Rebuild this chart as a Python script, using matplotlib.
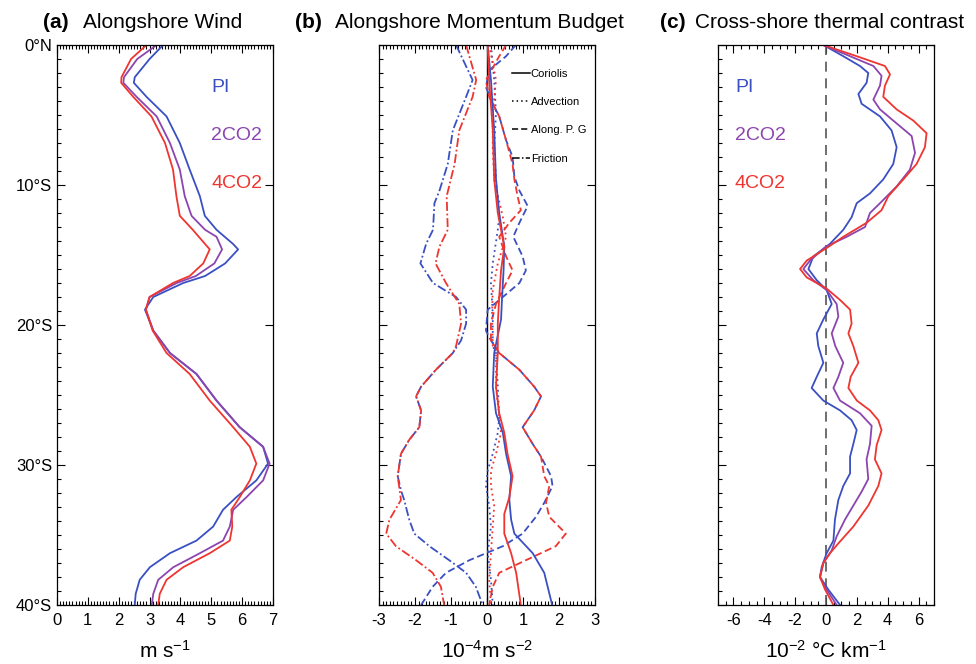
"""Three-panel profile figure: alongshore wind, momentum budget, cross-shore thermal contrast."""
import matplotlib.pyplot as plt
from matplotlib.lines import Line2D
from matplotlib.ticker import MultipleLocator

plt.rcParams["font.family"] = ["Liberation Sans", "DejaVu Sans"]
plt.rcParams["axes.unicode_minus"] = False
plt.rcParams["mathtext.fontset"] = "custom"
plt.rcParams["mathtext.rm"] = "Liberation Sans"
plt.rcParams["mathtext.default"] = "regular"

BLUE = "#3a50c2"
PURPLE = "#8c45b0"
RED = "#ee3530"

# --- (a) alongshore wind, m/s; latitude in degrees south ---
wind_pi_lat = [0, 1.0, 2.3, 2.7, 3.7, 5.1, 7.0, 8.9, 10.8, 12.2, 13.2, 14.2, 14.6, 15.6, 16.5, 17.0, 18.0, 18.9,
               20.4, 22.0, 23.5, 25.4, 27.3, 28.7, 29.9, 31.1, 32.3, 33.2, 34.4, 35.4, 36.3, 37.3, 38.2, 39.2, 40]
wind_pi = [3.44, 3.0, 2.52, 2.49, 2.9, 3.55, 3.98, 4.3, 4.63, 4.79, 5.17, 5.7, 5.87, 5.45, 4.8, 4.09, 3.12, 2.85,
           3.12, 3.66, 4.52, 5.17, 5.92, 6.68, 6.84, 6.46, 5.81, 5.38, 5.06, 4.52, 3.66, 3.01, 2.68, 2.55, 2.52]
wind_2co2_lat = [0, 1.0, 2.3, 2.7, 3.7, 5.1, 7.0, 8.9, 10.8, 12.2, 13.2, 13.7, 14.6, 15.6, 16.5, 17.0, 18.0, 18.9,
                 20.4, 22.0, 23.5, 25.4, 27.3, 28.7, 29.9, 31.1, 32.3, 33.2, 34.4, 35.4, 36.3, 37.3, 38.2, 39.2, 40]
wind_2co2 = [3.23, 2.6, 2.17, 2.15, 2.58, 3.23, 3.66, 3.98, 4.14, 4.36, 4.8, 5.17, 5.35, 5.1, 4.5, 3.88, 3.0, 2.88,
             3.12, 3.66, 4.52, 5.17, 5.92, 6.68, 6.89, 6.68, 6.14, 5.71, 5.6, 5.38, 4.63, 3.77, 3.28, 3.12, 3.07]
wind_4co2_lat = [0, 1.0, 2.3, 2.7, 3.7, 5.1, 7.0, 8.9, 10.8, 12.2, 13.2, 14.6, 15.6, 16.5, 17.0, 18.0, 18.9,
                 20.4, 22.0, 23.5, 25.4, 27.3, 28.7, 29.9, 31.1, 32.3, 33.2, 34.4, 35.4, 36.3, 37.3, 38.2, 39.2, 40]
wind_4co2 = [2.9, 2.4, 2.09, 2.08, 2.47, 3.06, 3.5, 3.76, 3.87, 3.98, 4.4, 4.95, 4.74, 4.3, 3.76, 3.0, 2.88,
             3.1, 3.55, 4.3, 4.95, 5.71, 6.25, 6.46, 6.25, 5.92, 5.65, 5.68, 5.6, 4.95, 4.09, 3.55, 3.33, 3.28]

# --- (b) momentum budget terms, 1e-4 m/s2 (PI blue, 4CO2 red) ---
fric_pi_lat = [0, 2.5, 3.7, 6.1, 8.5, 10.4, 11.3, 13.2, 14.2, 15.6, 17.0, 18.0, 18.9, 19.9, 21.1, 22.0, 23.2, 24.4,
               25.1, 26.1, 27.3, 28.2, 29.2, 30.8, 31.8, 32.5, 33.9, 34.9, 35.8, 36.8, 37.7, 38.7, 40]
fric_pi = [-0.86, -0.4, -0.58, -0.95, -1.09, -1.32, -1.46, -1.5, -1.69, -1.85, -1.5, -0.86, -0.58, -0.58, -0.72,
           -0.95, -1.42, -1.83, -1.97, -1.83, -1.88, -2.16, -2.39, -2.48, -2.39, -2.3, -2.16, -2.02, -1.6, -1.05,
           -0.58, -0.31, -0.12]
fric_4co2_lat = [0, 2.5, 3.7, 6.1, 8.5, 10.8, 13.2, 14.4, 15.6, 17.0, 18.5, 19.9, 21.5, 22.0, 23.2, 24.4, 25.1,
                 26.1, 27.3, 28.2, 29.2, 30.8, 32.5, 33.9, 34.9, 35.8, 36.8, 37.7, 38.7, 40]
fric_4co2 = [-0.58, -0.3, -0.4, -0.77, -0.9, -1.12, -1.09, -1.32, -1.43, -1.14, -0.77, -0.72, -0.86, -0.95, -1.42,
             -1.83, -1.97, -1.83, -1.88, -2.16, -2.39, -2.48, -2.39, -2.71, -2.8, -2.53, -1.97, -1.51, -1.28, -1.19]

pg_pi_lat = [0, 0.8, 1.8, 3.0, 4.2, 5.1, 6.8, 8.0, 9.4, 10.4, 11.5, 12.7, 13.7, 15.1, 16.1, 17.0, 18.0, 18.9, 20.4,
             21.1, 22.0, 23.2, 24.4, 25.1, 26.1, 27.3, 28.5, 29.4, 30.8, 31.5, 32.7, 33.7, 34.9, 35.8, 36.8, 37.7,
             38.7, 40]
pg_pi = [0.8, 0.53, 0.06, -0.03, 0.16, 0.34, 0.53, 0.71, 0.76, 0.9, 1.13, 0.9, 0.73, 0.99, 1.08, 0.9, 0.44, 0.02,
         -0.03, 0.11, 0.34, 0.9, 1.31, 1.5, 1.31, 0.99, 1.27, 1.5, 1.78, 1.82, 1.59, 1.36, 0.99, 0.44, -0.49, -1.14,
         -1.51, -1.83]
pg_4co2_lat = [0, 0.8, 2.5, 3.7, 5.1, 6.8, 8.5, 9.6, 10.8, 11.8, 12.7, 13.7, 15.1, 16.1, 17.0, 18.5, 19.9, 21.1,
               22.0, 23.2, 24.4, 25.1, 26.1, 27.3, 28.5, 29.4, 30.8, 31.5, 32.7, 33.7, 34.9, 35.8, 36.8, 37.7, 38.7,
               40]
pg_4co2 = [0.53, 0.34, -0.03, 0.06, 0.34, 0.53, 0.71, 0.76, 0.85, 0.94, 0.62, 0.34, 0.53, 0.71, 0.53, 0.25, 0.11,
           0.11, 0.34, 0.9, 1.31, 1.5, 1.31, 0.99, 1.27, 1.5, 1.59, 1.73, 1.64, 1.73, 2.19, 1.91, 1.08, 0.34, 0.16,
           0.06]

cor_pi_lat = [0, 2.5, 6.1, 9.6, 12.0, 14.4, 16.1, 18.0, 19.6, 22.0, 24.4, 26.3, 27.7, 29.2, 30.8, 32.5, 33.9,
              34.9, 36.3, 37.7, 40]
cor_pi = [0.02, 0.11, 0.2, 0.25, 0.34, 0.48, 0.46, 0.42, 0.39, 0.2, 0.16, 0.25, 0.44, 0.53, 0.67, 0.62, 0.67,
          0.76, 1.27, 1.59, 1.81]
cor_4co2_lat = [0, 2.5, 6.1, 9.6, 12.0, 14.4, 16.1, 18.0, 19.9, 22.0, 24.4, 26.3, 27.7, 29.2, 30.8, 32.3, 33.5,
                34.9, 36.3, 37.7, 40]
cor_4co2 = [0.02, 0.06, 0.16, 0.2, 0.3, 0.48, 0.39, 0.34, 0.3, 0.3, 0.25, 0.34, 0.48, 0.57, 0.71, 0.62, 0.48,
            0.48, 0.67, 0.81, 0.94]

adv_pi_lat = [0, 2.5, 4.9, 7.3, 9.6, 12.3, 13.2, 15.6, 17.0, 19.2, 21.5, 22.0, 24.4, 26.6, 27.7, 29.2, 30.4,
              31.5, 32.9, 34.4, 36.3, 38.2, 40]
adv_pi = [0.11, 0.2, 0.25, 0.2, 0.25, 0.34, 0.3, 0.16, 0.11, 0.16, 0.16, 0.25, 0.3, 0.34, 0.3, 0.16, 0.02,
          -0.03, 0.06, 0.11, 0.02, 0.11, 0.16]
adv_4co2_lat = [0, 2.5, 4.9, 7.3, 9.6, 12.3, 13.7, 15.6, 17.5, 19.2, 21.5, 22.0, 24.4, 26.6, 27.7, 29.2, 30.4,
                31.5, 32.9, 34.4, 36.3, 38.2, 40]
adv_4co2 = [0.06, 0.25, 0.16, 0.16, 0.2, 0.44, 0.53, 0.3, 0.16, 0.14, 0.16, 0.25, 0.25, 0.34, 0.39, 0.25, 0.11,
            0.11, 0.2, 0.16, 0.11, 0.06, 0.11]

# --- (c) cross-shore thermal contrast, 1e-2 degC/km ---
tc_pi_lat = [0, 0.8, 1.5, 2.0, 2.7, 3.5, 4.2, 5.1, 6.1, 7.3, 8.5, 9.6, 10.6, 11.3, 12.3, 13.2, 14.2, 15.1, 16.0,
             16.8, 17.5, 18.5, 19.6, 20.6, 21.5, 22.7, 23.7, 24.5, 25.4, 26.1, 26.8, 27.5, 28.5, 29.4, 30.6, 31.5,
             32.5, 33.9, 35.4, 36.3, 37.3, 38.0, 38.9, 40]
tc_pi = [-0.17, 1.12, 2.2, 2.74, 2.63, 2.1, 2.31, 3.5, 4.25, 4.58, 4.36, 3.71, 2.85, 1.99, 1.66, 1.12, 0.26, -0.82,
         -1.14, -0.6, 0.04, 0.37, -0.17, -0.6, -0.5, -0.17, -0.6, -0.93, -0.17, 0.91, 1.66, 1.99, 1.77, 1.56, 1.56,
         1.12, 0.8, 0.58, 0.48, 0.04, -0.28, -0.39, 0.15, 0.91]
tc_2co2_lat = [0, 0.8, 1.5, 2.2, 2.9, 3.9, 4.6, 5.4, 6.5, 7.7, 8.9, 10.1, 11.3, 12.0, 13.0, 13.7, 14.4, 15.4, 16.0,
               16.8, 17.5, 18.5, 19.4, 20.6, 21.5, 22.7, 23.7, 24.5, 25.4, 26.3, 27.2, 28.5, 29.6, 31.0, 31.9, 32.9,
               33.9, 35.1, 36.1, 37.0, 38.0, 38.9, 40]
tc_2co2 = [-0.17, 1.56, 3.07, 3.6, 3.5, 3.07, 3.5, 4.36, 5.55, 5.77, 5.44, 4.58, 3.5, 2.85, 2.53, 1.34, 0.0, -1.04,
           -1.47, -0.82, 0.04, 0.69, 0.8, 0.37, 0.6, 1.12, 0.8, 0.48, 0.91, 2.2, 2.96, 2.85, 2.63, 2.74, 2.31, 1.77,
           1.23, 0.69, 0.37, -0.17, -0.39, 0.04, 0.69]
tc_4co2_lat = [0, 0.8, 1.5, 2.1, 2.9, 3.7, 4.6, 5.4, 6.3, 7.3, 8.5, 9.6, 10.8, 11.8, 12.7, 13.7, 14.5, 15.4, 16.0,
               16.6, 17.4, 18.2, 18.9, 19.9, 20.6, 21.5, 22.7, 23.7, 24.5, 25.4, 26.1, 26.8, 27.5, 28.6, 29.6, 30.6,
               31.5, 32.9, 34.4, 35.6, 36.3, 37.0, 38.0, 38.9, 40]
tc_4co2 = [-0.17, 1.99, 3.82, 4.15, 3.82, 3.71, 4.58, 5.66, 6.52, 6.41, 5.87, 5.01, 4.04, 3.6, 2.63, 1.12, 0.04,
           -1.25, -1.68, -1.25, 0.04, 0.9, 1.56, 1.66, 1.45, 1.77, 2.1, 1.6, 1.45, 2.0, 2.85, 3.39, 3.6, 3.28, 3.17,
           3.6, 3.39, 2.74, 1.77, 0.8, 0.26, -0.17, -0.39, -0.06, 0.48]

LAT_TICKS = [0, 10, 20, 30, 40]
LAT_LABELS = ["0°N", "10°S", "20°S", "30°S", "40°S"]

DASHDOT = (0, (5, 1.5, 1, 1.5))
DOTTED = (0, (1, 2))
DASHED = (0, (4, 2))


def style_axis(ax, xlim, xmajor, xminor, ylabels):
    ax.set_xlim(*xlim)
    ax.set_ylim(40, 0)
    ax.xaxis.set_major_locator(MultipleLocator(xmajor))
    ax.xaxis.set_minor_locator(MultipleLocator(xminor))
    ax.set_yticks(LAT_TICKS)
    ax.yaxis.set_minor_locator(MultipleLocator(1))
    ax.tick_params(which="both", direction="in", top=True, right=True, labelsize=12, width=0.8)
    ax.tick_params(which="major", length=6)
    ax.tick_params(which="minor", length=3)
    ax.tick_params(axis="x", which="major", pad=6)
    ax.tick_params(axis="y", which="minor", right=False)
    if ylabels:
        ax.set_yticklabels(LAT_LABELS)
    else:
        ax.set_yticklabels([])
    for sp in ax.spines.values():
        sp.set_linewidth(0.9)


def main() -> None:
    fig = plt.figure(figsize=(9.76, 6.64), dpi=100)
    W, H = 976, 664
    rect = lambda x0: [x0 / W, 1 - 605 / H, 216 / W, 560 / H]
    ax_a = fig.add_axes(rect(57))
    ax_b = fig.add_axes(rect(379))
    ax_c = fig.add_axes(rect(718))

    lw = 1.3
    # (a)
    ax_a.plot(wind_pi, wind_pi_lat, color=BLUE, lw=lw)
    ax_a.plot(wind_2co2, wind_2co2_lat, color=PURPLE, lw=lw)
    ax_a.plot(wind_4co2, wind_4co2_lat, color=RED, lw=lw)
    style_axis(ax_a, (0, 7), 1, 0.1, True)
    for txt, col, yy in [("PI", BLUE, 3.0), ("2CO2", PURPLE, 6.5), ("4CO2", RED, 9.9)]:
        ax_a.text(5.0, yy, txt, color=col, fontsize=14, va="center", ha="left")
    ax_a.set_xlabel("m s$^{-1}$", fontsize=15, labelpad=8)

    # (b)
    ax_b.axvline(0, color="black", lw=1.0)
    for lat, val, col, ls in [
        (fric_pi_lat, fric_pi, BLUE, DASHDOT), (fric_4co2_lat, fric_4co2, RED, DASHDOT),
        (pg_pi_lat, pg_pi, BLUE, DASHED), (pg_4co2_lat, pg_4co2, RED, DASHED),
        (adv_pi_lat, adv_pi, BLUE, DOTTED), (adv_4co2_lat, adv_4co2, RED, DOTTED),
        (cor_pi_lat, cor_pi, BLUE, "-"), (cor_4co2_lat, cor_4co2, RED, "-"),
    ]:
        ax_b.plot(val, lat, color=col, ls=ls, lw=lw)
    style_axis(ax_b, (-3, 3), 1, 0.1, False)
    handles = [Line2D([], [], color="black", lw=1.1, ls=ls) for ls in ["-", DOTTED, DASHED, DASHDOT]]
    ax_b.legend(handles, ["Coriolis", "Advection", "Along. P. G", "Friction"], loc="upper left",
                bbox_to_anchor=(0.615, 0.958), frameon=False, fontsize=8, handlelength=1.6,
                handletextpad=0.1, labelspacing=1.65, borderpad=0, borderaxespad=0)
    ax_b.set_xlabel("10$^{-4}$m s$^{-2}$", fontsize=15, labelpad=8)

    # (c)
    ax_c.axvline(0, color="#555555", lw=1.2, ls=(0, (6, 4)))
    ax_c.plot(tc_pi, tc_pi_lat, color=BLUE, lw=lw)
    ax_c.plot(tc_2co2, tc_2co2_lat, color=PURPLE, lw=lw)
    ax_c.plot(tc_4co2, tc_4co2_lat, color=RED, lw=lw)
    style_axis(ax_c, (-7, 7), 2, 0.5, False)
    for txt, col, yy in [("PI", BLUE, 3.0), ("2CO2", PURPLE, 6.5), ("4CO2", RED, 9.9)]:
        ax_c.text(-5.9, yy, txt, color=col, fontsize=14, va="center", ha="left")
    ax_c.set_xlabel("10$^{-2}$ °C km$^{-1}$", fontsize=15, labelpad=8)

    # panel titles
    for x_tag, x_name, tag, name in [(43, 83, "(a)", "Alongshore Wind"),
                                     (295, 335, "(b)", "Alongshore Momentum Budget"),
                                     (660, 695, "(c)", "Cross-shore thermal contrast")]:
        fig.text(x_tag / W, 1 - 22 / H, tag, fontsize=15, fontweight="bold", va="center", ha="left")
        fig.text(x_name / W, 1 - 22 / H, name, fontsize=15, va="center", ha="left")

    fig.savefig("out.png", dpi=100)
    plt.close(fig)


if __name__ == "__main__":
    main()
